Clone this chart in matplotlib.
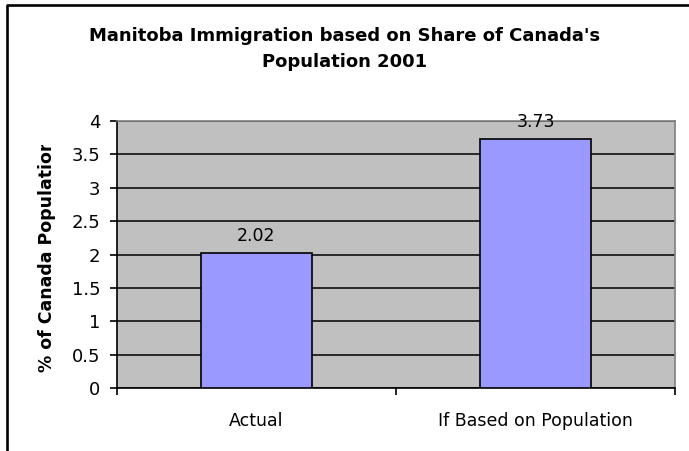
import matplotlib
matplotlib.use('Agg')
import matplotlib.pyplot as plt
from matplotlib.lines import Line2D
from matplotlib.transforms import Bbox

plt.rcParams['font.family'] = ['DejaVu Sans']

# Данные
categories = ['Actual', 'If Based on Population']
values = [2.02, 3.73]
yticks = [0, 0.5, 1, 1.5, 2, 2.5, 3, 3.5, 4]
ytick_labels = ['0', '0.5', '1', '1.5', '2', '2.5', '3', '3.5', '4']

W, H = 689, 451
fig = plt.figure(figsize=(W / 100, H / 100), dpi=100)
ax = fig.add_axes([117 / W, 1 - 388 / H, (675 - 117) / W, (388 - 121) / H])
ax.set_facecolor('#C0C0C0')

pos = [i + 0.5 for i in range(len(categories))]
bars = ax.bar(pos, values, width=0.4, color='#9999FF', edgecolor='black', linewidth=1.2, zorder=3)

for b, v in zip(bars, values):
    ax.annotate(f'{v:.2f}', (b.get_x() + b.get_width() / 2, v), xytext=(0, 6),
                textcoords='offset points', ha='center', va='bottom', fontsize=12.5, zorder=4)

ax.set_xlim(0, 2)
ax.set_ylim(0, 4)
ax.set_yticks(yticks)
ax.set_yticklabels(ytick_labels, fontsize=13)
ax.yaxis.grid(True, color='black', linewidth=1.1, zorder=1)
ax.set_axisbelow(True)

ax.set_xticks([0, 1, 2])
ax.set_xticklabels(['', '', ''])
ax.set_xticks(pos, minor=True)
ax.set_xticklabels(categories, minor=True, fontsize=12.5)
ax.tick_params(axis='x', which='minor', length=0, pad=17)
ax.tick_params(axis='x', which='major', direction='out', length=5, width=1.2)
ax.tick_params(axis='y', direction='out', length=5, width=1.2, pad=7)

for s in ['left', 'bottom']:
    ax.spines[s].set_color('black')
    ax.spines[s].set_linewidth(1.2)
for s in ['top', 'right']:
    ax.spines[s].set_color('#808080')
    ax.spines[s].set_linewidth(1.2)

fig.text(0.5, 1 - 49 / H, "Manitoba Immigration based on Share of Canada's\nPopulation 2001",
         ha='center', va='center', fontsize=13, fontweight='bold', linespacing=1.6)

ylab = fig.text(47 / W, 1 - 255 / H, '% of Canada Population', rotation=90,
                ha='center', va='center', fontsize=12.5, fontweight='bold')
# подпись обрезана сверху, как в оригинале
ylab.set_clip_box(Bbox.from_extents(0, 0, W, H - 145))
ylab.set_clip_on(True)

# рамка диаграммы (видны только левая и верхняя стороны)
fig.lines.append(Line2D([6.5 / W, 6.5 / W, 1.0], [0.0, 1 - 5 / H, 1 - 5 / H],
                        transform=fig.transFigure, color='black', linewidth=1.9))

fig.savefig('out.png', dpi=100)
